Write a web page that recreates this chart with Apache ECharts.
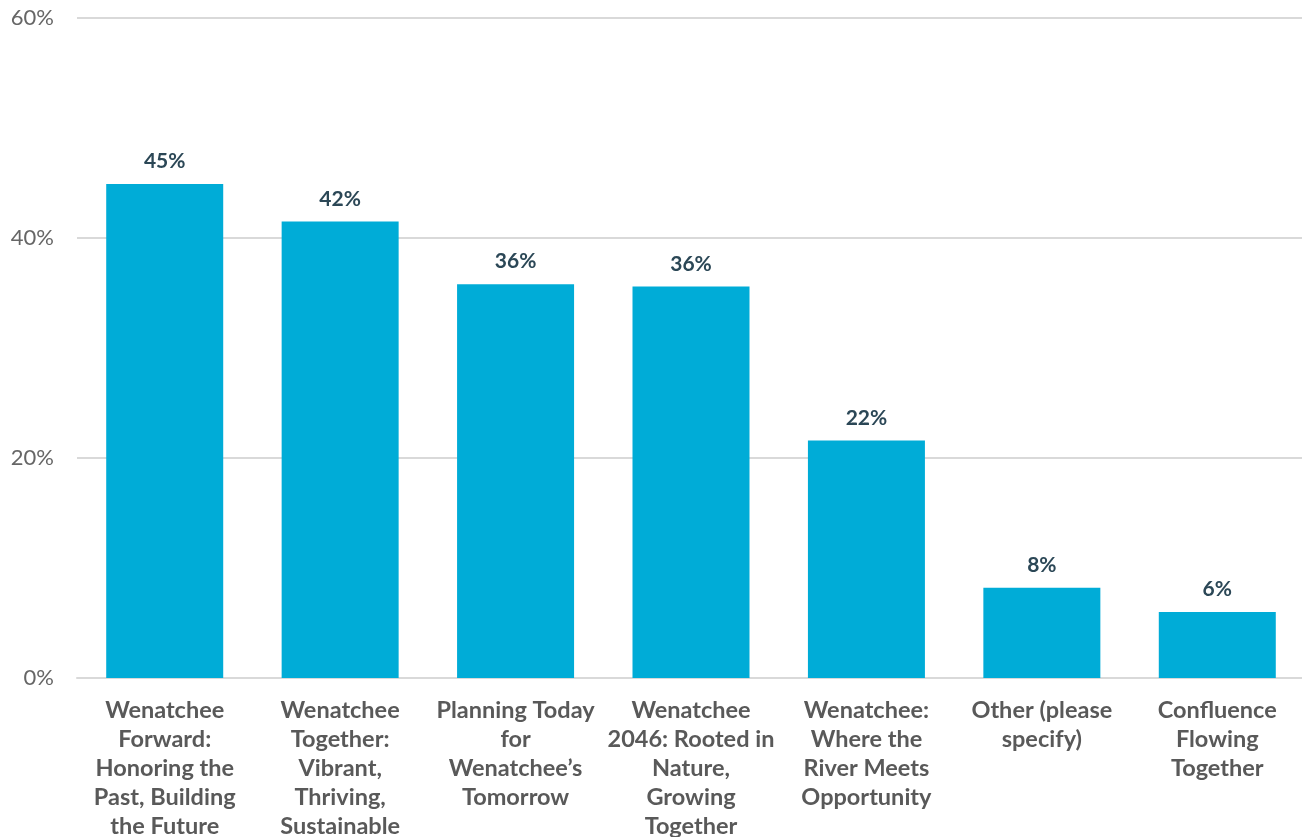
<!DOCTYPE html>
<html><head><meta charset="utf-8">
<script src="https://cdn.jsdelivr.net/npm/echarts@6/dist/echarts.min.js"></script>
<style>html,body{margin:0;padding:0;background:#fff}#c{width:1302px;height:837px}</style>
</head><body><div id="c"></div>
<script>
const categories = [
  "Wenatchee\nForward:\nHonoring the\nPast, Building\nthe Future",
  "Wenatchee\nTogether:\nVibrant,\nThriving,\nSustainable",
  "Planning Today\nfor\nWenatchee\u2019s\nTomorrow",
  "Wenatchee\n2046: Rooted in\nNature,\nGrowing\nTogether",
  "Wenatchee:\nWhere the\nRiver Meets\nOpportunity",
  "Other (please\nspecify)",
  "Confluence\nFlowing\nTogether"
];
const values = [44.9, 41.5, 35.8, 35.6, 21.6, 8.2, 6.0];
const valueLabels = ["45%", "42%", "36%", "36%", "22%", "8%", "6%"];
const yTicks = [0, 20, 40, 60];

const chart = echarts.init(document.getElementById('c'));
chart.setOption({
  animation: false,
  textStyle: { fontFamily: 'Lato' },
  grid: { left: 77, top: 18, width: 1228, height: 660, containLabel: false, outerBoundsMode: 'none' },
  xAxis: {
    type: 'category', data: categories,
    axisLine: { lineStyle: { color: '#d9d9d9', width: 2 } },
    axisTick: { show: false },
    axisLabel: { interval: 0, color: '#595959', fontFamily: 'Lato', fontWeight: 'bold', fontSize: 23.5, lineHeight: 29, margin: 18 }
  },
  yAxis: {
    type: 'value', min: 0, max: 60, interval: 20,
    axisLine: { show: false }, axisTick: { show: false },
    splitLine: { lineStyle: { color: '#d9d9d9', width: 2 } },
    axisLabel: { color: '#666666', fontFamily: 'Lato', fontSize: 22, margin: 23, formatter: v => yTicks.includes(v) ? v + '%' : '' }
  },
  series: [{
    type: 'bar', data: values, barWidth: 117,
    itemStyle: { color: '#00acd7' },
    label: { show: true, position: 'top', distance: 12, color: '#2b4756', fontFamily: 'Lato', fontWeight: 'bold', fontSize: 21,
      formatter: p => valueLabels[p.dataIndex] }
  }]
});
</script></body></html>
